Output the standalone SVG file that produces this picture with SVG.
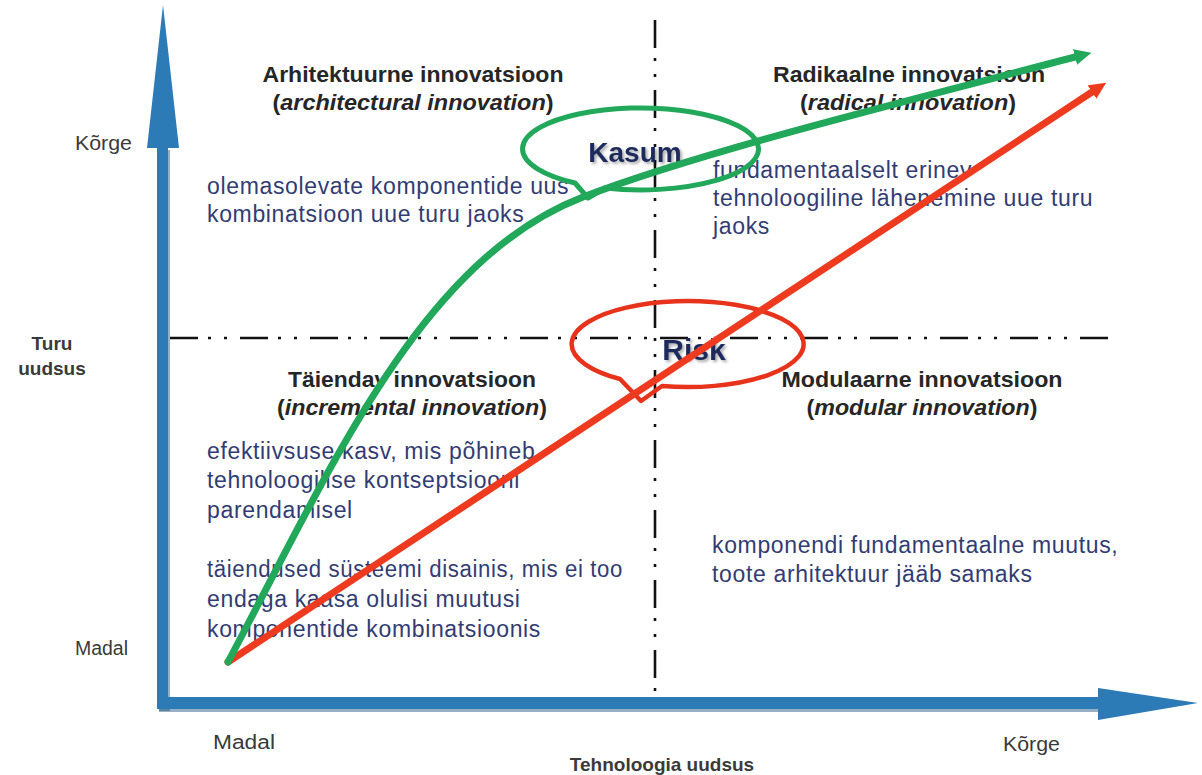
<svg xmlns="http://www.w3.org/2000/svg" width="1202" height="775" viewBox="0 0 1202 775">
<defs>
<style>
.title{font-family:"Liberation Sans",Arial,sans-serif;font-weight:bold;font-size:22px;fill:#262626;text-anchor:middle}
.it{font-style:italic}
.body{font-family:"Liberation Sans",Arial,sans-serif;font-size:23px;fill:#323c72;letter-spacing:0.65px}
.axl{font-family:"Liberation Sans",Arial,sans-serif;font-size:20px;fill:#3a3a3a}
.axb{font-family:"Liberation Sans",Arial,sans-serif;font-size:19px;font-weight:bold;fill:#3a3a3a;text-anchor:middle}
.big{font-family:"Liberation Sans",Arial,sans-serif;font-weight:bold;fill:#1f2a5c;text-anchor:middle}
.dd{fill:none;stroke:#111;stroke-width:2.6;stroke-dasharray:28 10 3 13 3 13}
.axis{fill:#2c7bb6}
.axsh{fill:#1b4f7a;opacity:0.45}
</style>
<filter id="sh" x="-20%" y="-20%" width="140%" height="140%">
<feGaussianBlur in="SourceAlpha" stdDeviation="1.5"/>
<feOffset dx="1.5" dy="2" result="b"/>
<feComponentTransfer><feFuncA type="linear" slope="0.35"/></feComponentTransfer>
<feMerge><feMergeNode/><feMergeNode in="SourceGraphic"/></feMerge>
</filter>
<marker id="ahG" viewBox="0 0 17 16" refX="0" refY="8" markerWidth="17" markerHeight="16" markerUnits="userSpaceOnUse" orient="auto">
<path d="M0,0 L17,8 L0,16 z" fill="#22a85a"/>
</marker>
<marker id="ahR" viewBox="0 0 17 16" refX="0" refY="8" markerWidth="17" markerHeight="16" markerUnits="userSpaceOnUse" orient="auto">
<path d="M0,0 L17,8 L0,16 z" fill="#ee3a1e"/>
</marker>
</defs>
<rect width="1202" height="775" fill="#ffffff"/>

<g id="axes">
<rect class="axsh" x="159" y="150" width="11" height="561"/>
<rect class="axsh" x="159" y="700" width="942" height="12"/>
<rect class="axis" x="157" y="146" width="11" height="562"/>
<polygon class="axis" points="147,148 163,5 179,148"/>
<rect class="axis" x="157" y="697" width="943" height="12"/>
<polygon class="axis" points="1098,688 1198,703 1098,720"/>
</g>

<g id="dividers">
<line class="dd" x1="170" y1="338" x2="1115" y2="338"/>
<line class="dd" x1="655" y1="20" x2="655" y2="700"/>
</g>

<g id="axis-labels">
<text class="axl" x="75" y="150" textLength="57" lengthAdjust="spacingAndGlyphs">Kõrge</text>
<text class="axl" x="75" y="655" textLength="53" lengthAdjust="spacingAndGlyphs">Madal</text>
<text class="axb" x="52" y="350">Turu</text>
<text class="axb" x="52" y="375">uudsus</text>
<text class="axl" x="213" y="749" textLength="62" lengthAdjust="spacingAndGlyphs">Madal</text>
<text class="axl" x="1003" y="751" textLength="57" lengthAdjust="spacingAndGlyphs">Kõrge</text>
<text class="axb" x="662" y="771">Tehnoloogia uudsus</text>
</g>

<g id="q-architectural">
<text class="title" x="413" y="82" textLength="301" lengthAdjust="spacingAndGlyphs">Arhitektuurne innovatsioon</text>
<text class="title" x="413" y="110" textLength="281" lengthAdjust="spacingAndGlyphs">(<tspan class="it">architectural innovation</tspan>)</text>
<text class="body" x="207" y="194">olemasolevate komponentide uus</text>
<text class="body" x="207" y="222">kombinatsioon uue turu jaoks</text>
</g>

<g id="q-radical">
<text class="title" x="909" y="82" textLength="272" lengthAdjust="spacingAndGlyphs">Radikaalne innovatsioon</text>
<text class="title" x="908" y="110" textLength="216" lengthAdjust="spacingAndGlyphs">(<tspan class="it">radical innovation</tspan>)</text>
<text class="body" x="713" y="178">fundamentaalselt erinev</text>
<text class="body" x="713" y="206">tehnoloogiline lähenemine uue turu</text>
<text class="body" x="713" y="234">jaoks</text>
</g>

<g id="q-incremental">
<text class="title" x="412" y="387" textLength="248" lengthAdjust="spacingAndGlyphs">Täiendav innovatsioon</text>
<text class="title" x="412" y="415" textLength="270" lengthAdjust="spacingAndGlyphs">(<tspan class="it">incremental innovation</tspan>)</text>
<text class="body" x="207" y="459">efektiivsuse kasv, mis põhineb</text>
<text class="body" x="207" y="488">tehnoloogilise kontseptsiooni</text>
<text class="body" x="207" y="518">parendamisel</text>
<text class="body" x="207" y="577" textLength="416" lengthAdjust="spacingAndGlyphs">täiendused süsteemi disainis, mis ei too</text>
<text class="body" x="207" y="607">endaga kaasa olulisi muutusi</text>
<text class="body" x="207" y="637">komponentide kombinatsioonis</text>
</g>

<g id="q-modular">
<text class="title" x="922" y="387" textLength="281" lengthAdjust="spacingAndGlyphs">Modulaarne innovatsioon</text>
<text class="title" x="922" y="415" textLength="231" lengthAdjust="spacingAndGlyphs">(<tspan class="it">modular innovation</tspan>)</text>
<text class="body" x="712" y="553">komponendi fundamentaalne muutus,</text>
<text class="body" x="712" y="582">toote arhitektuur jääb samaks</text>
</g>

<g id="kasum">
<path d="M575,183 L588,198 L605,188 A118 41 0 1 0 575,183 Z" fill="none" stroke="#22a85a" stroke-width="5" stroke-linejoin="round"/>
<text class="big" x="635" y="162" font-size="28" filter="url(#sh)">Kasum</text>
</g>

<g id="risk">
<path d="M620,379 L641,401 L662,386 A116 43 0 1 0 620,379 Z" fill="none" stroke="#e8331c" stroke-width="4.5" stroke-linejoin="round"/>
<text class="big" x="694" y="360" font-size="30" filter="url(#sh)">Risk</text>
</g>

<g id="connectors">
<path d="M228,662 L1092,92" fill="none" stroke="#ee3a1e" stroke-width="7" stroke-linecap="round" marker-end="url(#ahR)"/>
<path d="M228,662 C330,470 420,260 583,197 C700,152 900,103 1075,57" fill="none" stroke="#22a85a" stroke-width="7" stroke-linecap="round" marker-end="url(#ahG)"/>
</g>
</svg>
